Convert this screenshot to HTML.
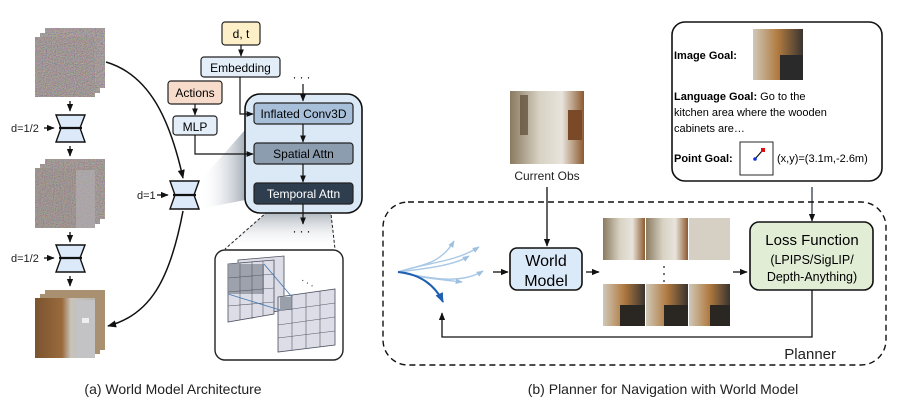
<!DOCTYPE html>
<html><head><meta charset="utf-8"><style>
html,body{margin:0;padding:0;background:#fff;}
svg{display:block;font-family:"Liberation Sans",sans-serif;}
</style></head><body>
<svg width="897" height="417" viewBox="0 0 897 417" xmlns="http://www.w3.org/2000/svg">
<defs>
<filter id="noise" x="0" y="0" width="100%" height="100%">
<feTurbulence type="fractalNoise" baseFrequency="0.9" numOctaves="1" seed="3" result="t"/>
<feColorMatrix in="t" type="matrix" values="1.2 0 0 0 -0.15  0 1.1 0 0 -0.15  0 0 1.2 0 -0.15  0 0 0 0 1"/>
</filter>
<marker id="ah" viewBox="0 0 10 10" refX="9" refY="5" markerWidth="6" markerHeight="6" orient="auto"><path d="M0,1 L10,5 L0,9 z" fill="#111"/></marker>
<marker id="ahb" viewBox="0 0 10 10" refX="9" refY="5" markerWidth="5" markerHeight="5" orient="auto"><path d="M0,1 L10,5 L0,9 z" fill="#9ec0e0"/></marker>
<marker id="ahd" viewBox="0 0 10 10" refX="9" refY="5" markerWidth="5" markerHeight="5" orient="auto"><path d="M0,1 L10,5 L0,9 z" fill="#1e5fb0"/></marker>
<linearGradient id="gshade" x1="0" x2="1"><stop offset="0" stop-color="#fff" stop-opacity="0"/><stop offset="1" stop-color="#8f9aa8" stop-opacity="0.8"/></linearGradient>
<linearGradient id="gshade2" x1="0" y1="1" x2="0" y2="0"><stop offset="0" stop-color="#fff" stop-opacity="0"/><stop offset="1" stop-color="#7d8896" stop-opacity="0.9"/></linearGradient>
<linearGradient id="room" x1="0" x2="1"><stop offset="0" stop-color="#8a7a60"/><stop offset="0.4" stop-color="#d8d2c4"/><stop offset="0.7" stop-color="#e8e4dc"/><stop offset="1" stop-color="#8c5a30"/></linearGradient>
<linearGradient id="room2" x1="0" x2="1"><stop offset="0" stop-color="#cfc8b8"/><stop offset="0.5" stop-color="#b07a40"/><stop offset="1" stop-color="#3a3430"/></linearGradient>
<linearGradient id="door" x1="0" x2="1"><stop offset="0" stop-color="#7a5430"/><stop offset="0.45" stop-color="#9a6a3c"/><stop offset="0.6" stop-color="#c8c4bc"/><stop offset="1" stop-color="#b9b5ae"/></linearGradient>
</defs>

<!-- LEFT PANEL -->
<!-- noisy stacks -->
<g>
<rect x="45" y="28" width="60" height="60" fill="#8d8377"/><rect x="45" y="28" width="60" height="60" filter="url(#noise)" opacity="0.6"/>
<rect x="40" y="33" width="60" height="60" fill="#8d8377"/><rect x="40" y="33" width="60" height="60" filter="url(#noise)" opacity="0.6"/>
<rect x="35" y="37" width="60" height="60" fill="#8a7f72"/><rect x="35" y="37" width="60" height="60" filter="url(#noise)" opacity="0.55"/>
</g>
<g>
<rect x="45" y="159" width="60" height="60" fill="#8f8679"/><rect x="45" y="159" width="60" height="60" filter="url(#noise)" opacity="0.5"/>
<rect x="40" y="164" width="60" height="60" fill="#8f8679"/><rect x="40" y="164" width="60" height="60" filter="url(#noise)" opacity="0.5"/>
<rect x="35" y="168" width="60" height="60" fill="#8c8276"/><rect x="35" y="168" width="60" height="60" filter="url(#noise)" opacity="0.45"/>
<rect x="76" y="170" width="19" height="58" fill="#b5b3b8" opacity="0.6"/>
</g>
<g>
<rect x="45" y="290" width="60" height="60" fill="#a89070"/>
<rect x="40" y="294" width="60" height="60" fill="#a89070"/>
<rect x="35" y="298" width="60" height="60" fill="url(#door)"/>
<rect x="76" y="300" width="19" height="58" fill="#c3c2c4"/>
<rect x="82" y="318" width="7" height="5" fill="#eee"/>
</g>
<!-- down arrows -->
<g stroke="#111" stroke-width="1.3" marker-end="url(#ah)">
<line x1="70" y1="101" x2="70" y2="111"/><line x1="70" y1="146" x2="70" y2="156"/>
<line x1="70" y1="232" x2="70" y2="242"/><line x1="70" y1="276" x2="70" y2="286"/>
<line x1="44" y1="128" x2="54" y2="128"/><line x1="44" y1="258" x2="54" y2="258"/>
<line x1="157" y1="195" x2="168" y2="195"/>
</g>
<!-- hourglasses -->
<g fill="#dbe9f8" stroke="#111" stroke-width="1.4">
<path d="M56,115 L85,115 L80,128 L85,142 L56,142 L61,128 Z"/><line x1="59" y1="128" x2="82" y2="128" stroke-width="2.2"/>
<path d="M56,245 L85,245 L80,258 L85,272 L56,272 L61,258 Z"/><line x1="59" y1="258" x2="82" y2="258" stroke-width="2.2"/>
<path d="M170,181 L199,181 L194,195 L199,209 L170,209 L175,195 Z"/><line x1="173" y1="195" x2="196" y2="195" stroke-width="2.2"/>
</g>
<g font-size="11" fill="#222">
<text x="11" y="132">d=1/2</text><text x="11" y="262">d=1/2</text><text x="137" y="199">d=1</text>
</g>
<!-- curves -->
<path d="M106,62 C150,75 170,120 183,178" fill="none" stroke="#111" stroke-width="1.5" marker-end="url(#ah)"/>
<path d="M183,211 C170,280 150,315 108,326" fill="none" stroke="#111" stroke-width="1.5" marker-end="url(#ah)"/>
<!-- shading -->
<polygon points="200,181 200,209 245,200 245,130" fill="url(#gshade)"/>
<polygon points="275,205 330,205 335,249 225,249" fill="url(#gshade2)"/>
<line x1="275" y1="205" x2="225" y2="249" stroke="#222" stroke-dasharray="3,2"/>
<line x1="330" y1="205" x2="335" y2="249" stroke="#222" stroke-dasharray="3,2"/>
<!-- top boxes -->
<rect x="222" y="22" width="38" height="23" rx="3" fill="#fdf0c8" stroke="#222" stroke-width="1.2"/>
<text x="241" y="38" font-size="12" text-anchor="middle">d, t</text>
<line x1="241" y1="45" x2="241" y2="56" stroke="#111" stroke-width="1.2" marker-end="url(#ah)"/>
<rect x="201" y="57" width="79" height="20" rx="3" fill="#e3eef9" stroke="#222" stroke-width="1.2"/>
<text x="240.5" y="72" font-size="12" text-anchor="middle">Embedding</text>
<rect x="168" y="81" width="54" height="23" rx="3" fill="#f8dccb" stroke="#222" stroke-width="1.2"/>
<text x="195" y="97" font-size="12" text-anchor="middle">Actions</text>
<line x1="195" y1="104" x2="195" y2="115" stroke="#111" stroke-width="1.2" marker-end="url(#ah)"/>
<rect x="173" y="116" width="44" height="19" rx="3" fill="#e3eef9" stroke="#222" stroke-width="1.2"/>
<text x="195" y="131" font-size="12" text-anchor="middle">MLP</text>
<!-- big box -->
<rect x="245" y="94" width="117" height="119" rx="15" fill="#dbe9f7" stroke="#111" stroke-width="1.6"/>
<polyline points="240,77 240,114 253,114" fill="none" stroke="#111" stroke-width="1.2" marker-end="url(#ah)"/>
<polyline points="195,135 195,154 253,154" fill="none" stroke="#111" stroke-width="1.2" marker-end="url(#ah)"/>
<text x="303" y="81" font-size="12" text-anchor="middle" letter-spacing="3">···</text>
<line x1="303" y1="84" x2="303" y2="101" stroke="#111" stroke-width="1.2" marker-end="url(#ah)"/>
<rect x="254" y="103" width="99" height="21" rx="3" fill="#a8bfd9" stroke="#222" stroke-width="1.2"/>
<text x="303.5" y="118" font-size="12" text-anchor="middle">Inflated Conv3D</text>
<line x1="303" y1="124" x2="303" y2="142" stroke="#111" stroke-width="1.2" marker-end="url(#ah)"/>
<rect x="254" y="143" width="99" height="21" rx="3" fill="#8d9db0" stroke="#222" stroke-width="1.2"/>
<text x="303.5" y="158" font-size="12" text-anchor="middle">Spatial Attn</text>
<line x1="303" y1="164" x2="303" y2="182" stroke="#111" stroke-width="1.2" marker-end="url(#ah)"/>
<rect x="254" y="183" width="99" height="21" rx="3" fill="#2f3e4f" stroke="#222" stroke-width="1.2"/>
<text x="303.5" y="198" font-size="12" text-anchor="middle" fill="#fff">Temporal Attn</text>
<line x1="303" y1="204" x2="303" y2="224" stroke="#111" stroke-width="1.2" marker-end="url(#ah)"/>
<text x="303" y="235" font-size="12" text-anchor="middle" letter-spacing="3">···</text>
<!-- grid box -->
<rect x="215" y="250" width="128" height="110" rx="10" fill="#fff" stroke="#222" stroke-width="1.4"/>
<g stroke="#4a5060" stroke-width="0.8" fill="#dcdde6">
<path d="M238,260 L284,256 L284,310 L238,318 Z"/>
<path d="M228,264 L274,260 L274,314 L228,322 Z"/>
<path d="M278,297 L335,289 L335,345 L278,352 Z"/>
</g>
<rect x="228" y="264" width="36" height="30" fill="#8e949e" opacity="0.8"/>
<rect x="280" y="297" width="12" height="13" fill="#9aa0aa"/>
<g stroke="#555a66" stroke-width="0.6" fill="none">
<path d="M240,263 L240,320 M252,262 L252,319 M263,261 L263,316 M228,278 L274,274 M228,292 L274,288 M228,306 L274,302"/>
<path d="M292,295 L292,350 M306,293 L306,348 M320,291 L320,347 M278,311 L335,303 M278,325 L335,317 M278,338 L335,331"/>
<path d="M264,264 L292,297 M228,294 L280,310" stroke="#4a7ab0" stroke-width="0.9"/>
</g>
<text x="300" y="282" font-size="10" fill="#222" transform="rotate(30 300 282)" letter-spacing="2">···</text>
<text x="173" y="394" font-size="14" text-anchor="middle" fill="#222">(a) World Model Architecture</text>

<!-- RIGHT PANEL -->
<rect x="672" y="22" width="210" height="159" rx="13" fill="#fff" stroke="#111" stroke-width="1.6"/>
<text x="674" y="59" font-size="11" font-weight="bold">Image Goal:</text>
<rect x="753" y="29" width="50" height="51" fill="url(#room2)"/>
<rect x="780" y="55" width="23" height="25" fill="#2a2a2a"/>
<text x="674" y="100" font-size="11"><tspan font-weight="bold">Language Goal:</tspan> Go to the</text>
<text x="674" y="116" font-size="11">kitchen area where the wooden</text>
<text x="674" y="132" font-size="11">cabinets are…</text>
<text x="674" y="162" font-size="11" font-weight="bold">Point Goal:</text>
<rect x="740" y="142" width="33" height="33" fill="#fff" stroke="#111" stroke-width="0.9"/>
<line x1="755" y1="159" x2="762" y2="151" stroke="#111" stroke-width="1.2"/>
<circle cx="755" cy="159" r="1.8" fill="#1030e0"/><rect x="761" y="148" width="4" height="4" fill="#e01010"/>
<text x="777" y="162" font-size="11">(x,y)=(3.1m,-2.6m)</text>

<rect x="510" y="91" width="74" height="73" fill="url(#room)"/>
<rect x="520" y="95" width="8" height="40" fill="#5a4a34" opacity="0.7"/>
<rect x="568" y="110" width="14" height="30" fill="#7a4a28"/>
<text x="547" y="180" font-size="12" text-anchor="middle" fill="#222">Current Obs</text>
<line x1="547" y1="187" x2="547" y2="246" stroke="#111" stroke-width="1.3" marker-end="url(#ah)"/>
<line x1="812" y1="187" x2="812" y2="221" stroke="#2f3e4f" stroke-width="1.3" marker-end="url(#ah)"/>

<rect x="383" y="202" width="503" height="163" rx="25" fill="none" stroke="#111" stroke-width="1.4" stroke-dasharray="6,4"/>
<text x="836" y="359" font-size="15" text-anchor="end" fill="#222">Planner</text>

<!-- trajectories -->
<g fill="none" stroke="#a9c8e6" stroke-width="1.4">
<path d="M398,272 C420,265 440,265 454,241" marker-end="url(#ahb)"/>
<path d="M398,272 C430,262 455,262 479,247" marker-end="url(#ahb)"/>
<path d="M398,272 C430,268 455,265 469,256" marker-end="url(#ahb)"/>
<path d="M398,272 C430,278 460,285 483,271" marker-end="url(#ahb)"/>
<path d="M398,272 C420,278 445,280 462,282" marker-end="url(#ahb)"/>
</g>
<path d="M398,272 C420,274 435,285 443,302" fill="none" stroke="#1e5fb0" stroke-width="2" marker-end="url(#ahd)"/>
<g stroke="#111" stroke-width="1.3" marker-end="url(#ah)">
<line x1="493" y1="272" x2="508" y2="272"/>
<line x1="586" y1="272" x2="599" y2="272"/>
<line x1="733" y1="272" x2="747" y2="272"/>
</g>
<rect x="510" y="248" width="72" height="42" rx="7" fill="#dbeaf9" stroke="#111" stroke-width="1.6"/>
<text x="546" y="266" font-size="16" text-anchor="middle">World</text>
<text x="546" y="286" font-size="16" text-anchor="middle">Model</text>

<!-- image grid -->
<rect x="603" y="218" width="42" height="42" fill="url(#room)"/>
<rect x="646" y="218" width="42" height="42" fill="url(#room)"/>
<rect x="689" y="218" width="41" height="42" fill="#d6d0c4"/>
<rect x="603" y="284" width="42" height="42" fill="url(#room2)"/>
<rect x="646" y="284" width="42" height="42" fill="url(#room2)"/>
<rect x="689" y="284" width="41" height="42" fill="url(#room2)"/>
<rect x="620" y="305" width="25" height="21" fill="#2a2622"/>
<rect x="664" y="305" width="24" height="21" fill="#2a2622"/>
<rect x="710" y="305" width="20" height="21" fill="#2a2622"/>
<g fill="#111"><circle cx="664" cy="267" r="0.9"/><circle cx="664" cy="274" r="0.9"/><circle cx="664" cy="281" r="0.9"/></g>

<rect x="750" y="222" width="123" height="68" rx="9" fill="#e2edd6" stroke="#111" stroke-width="1.6"/>
<text x="812" y="245" font-size="15" text-anchor="middle">Loss Function</text>
<text x="812" y="264" font-size="12.5" text-anchor="middle">(LPIPS/SigLIP/</text>
<text x="812" y="281" font-size="12.5" text-anchor="middle">Depth-Anything)</text>
<polyline points="812,290 812,337 442,337 442,313" fill="none" stroke="#111" stroke-width="1.3" marker-end="url(#ah)"/>

<text x="663" y="394" font-size="14" text-anchor="middle" fill="#222">(b) Planner for Navigation with World Model</text>
</svg>
</body></html>
